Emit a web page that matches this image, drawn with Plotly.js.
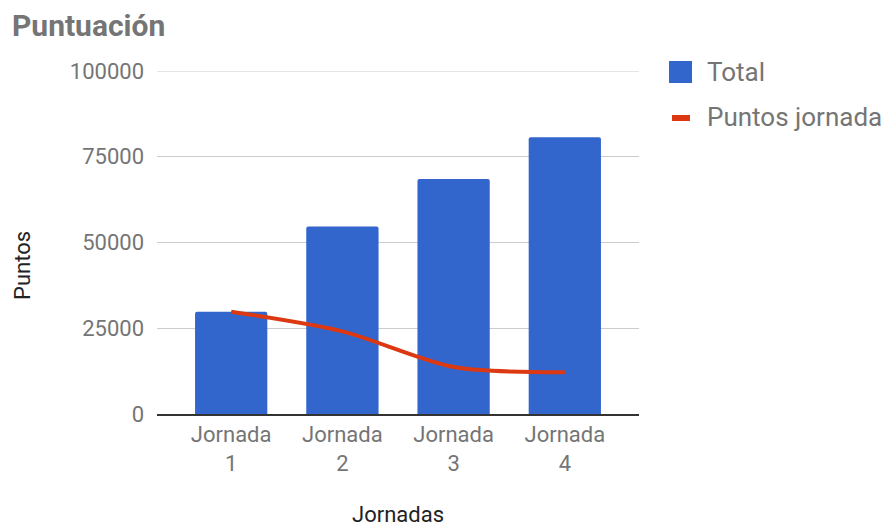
<!DOCTYPE html>
<html>
<head>
<meta charset="utf-8">
<script src="https://cdn.plot.ly/plotly-3.0.1.min.js"></script>
<style>html,body{margin:0;padding:0;background:#fff;}#chart{width:889px;height:528px;}</style>
</head>
<body>
<div id="chart"></div>
<script>
const categories = ['Jornada 1', 'Jornada 2', 'Jornada 3', 'Jornada 4'];
const tickLabels = ['Jornada<br>1', 'Jornada<br>2', 'Jornada<br>3', 'Jornada<br>4'];
const totalValues = [29800, 54700, 68500, 80700];
const jornadaValues = [29800, 24100, 13700, 12200];
const yTicks = [0, 25000, 50000, 75000, 100000];
const yMax = 100000;
const seriesNames = ['Total', 'Puntos jornada'];

const BLUE = '#3366cc', RED = '#dc3912', GREY = '#757575', FONT = 'Roboto, Arial, sans-serif';

const traces = [
  {type: 'bar', x: categories, y: totalValues, name: seriesNames[0],
   marker: {color: BLUE, cornerradius: 2}, hoverinfo: 'x+y'},
  {type: 'scatter', mode: 'lines', x: categories, y: jornadaValues, name: seriesNames[1],
   line: {color: RED, width: 4, shape: 'spline', smoothing: 0.8}}
];

// legend placement in pixels (converted to paper coords)
const L = 157, T = 71, W = 482, H = 343;
const px = v => (v - L) / W;
const py = v => (T + H - v) / H;

const layout = {
  width: 889, height: 528,
  margin: {l: L, r: 889 - L - W, t: T, b: 528 - T - H},
  paper_bgcolor: '#fff', plot_bgcolor: '#fff',
  font: {family: FONT, color: GREY, size: 22},
  showlegend: false,
  bargap: 0.35,
  title: {text: '<b>Puntuación</b>', font: {family: FONT, size: 30, color: GREY},
          x: 12 / 889, xanchor: 'left', xref: 'container', y: 1 - 25 / 528, yanchor: 'middle', yref: 'container'},
  xaxis: {type: 'category', range: [-0.667, 3.667], tickvals: categories, ticktext: tickLabels,
          showgrid: false, showline: true, linecolor: '#333', linewidth: 1.5, ticks: '',
          tickfont: {size: 22, color: GREY}, fixedrange: true},
  yaxis: {range: [0, yMax], tickvals: yTicks, tickformat: 'd', showgrid: true, gridcolor: '#cccccc',
          gridwidth: 1, zeroline: false, showline: false, ticks: '', ticklabelstandoff: 12,
          tickfont: {size: 22, color: GREY}, fixedrange: true},
  shapes: [
    {type: 'line', xref: 'paper', yref: 'y', x0: 0, x1: 1, y0: yMax, y1: yMax,
     line: {color: '#cccccc', width: 1}, layer: 'below'},
    {type: 'rect', xref: 'paper', yref: 'paper', x0: px(669), x1: px(692), y0: py(83), y1: py(61),
     fillcolor: BLUE, line: {width: 0}},
    {type: 'line', xref: 'paper', yref: 'paper', x0: px(672), x1: px(690), y0: py(118), y1: py(118),
     line: {color: RED, width: 6}}
  ],
  annotations: [
    {xref: 'paper', yref: 'paper', x: px(705), y: py(72), xanchor: 'left', yanchor: 'middle',
     text: seriesNames[0], showarrow: false, font: {size: 26, color: GREY}},
    {xref: 'paper', yref: 'paper', x: px(705), y: py(117), xanchor: 'left', yanchor: 'middle',
     text: seriesNames[1], showarrow: false, font: {size: 26, color: GREY}},
    {xref: 'paper', yref: 'paper', x: 0.5, y: py(514), xanchor: 'center', yanchor: 'middle',
     text: 'Jornadas', showarrow: false, font: {size: 22, color: '#222'}},
    {xref: 'paper', yref: 'paper', x: px(22), y: py(266), xanchor: 'center', yanchor: 'middle',
     text: 'Puntos', textangle: -90, showarrow: false, font: {size: 22, color: '#222'}}
  ]
};

Plotly.newPlot('chart', traces, layout, {displayModeBar: false, staticPlot: true});
</script>
</body>
</html>
